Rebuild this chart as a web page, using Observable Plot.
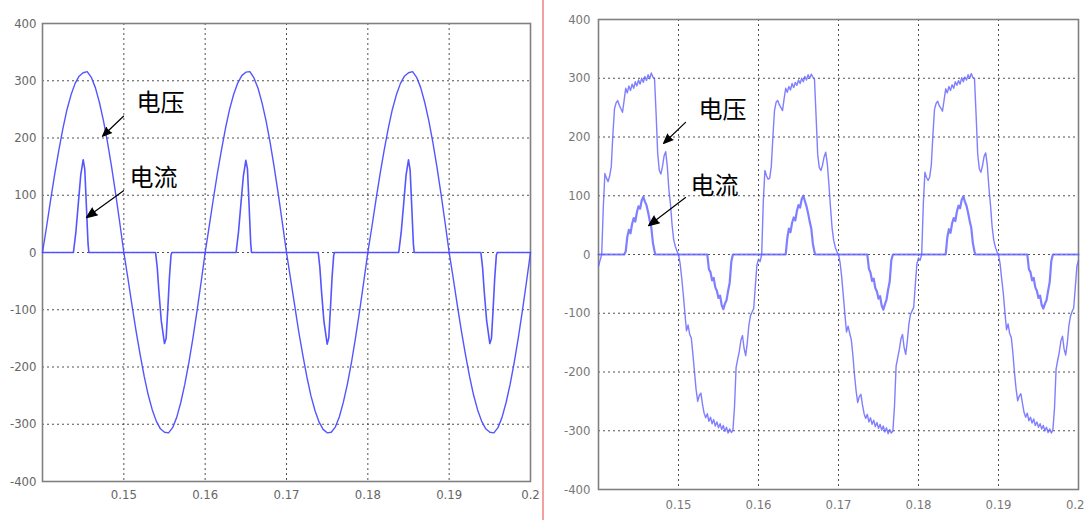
<!DOCTYPE html>
<html><head><meta charset="utf-8">
<script src="https://cdn.jsdelivr.net/npm/d3@7"></script>
<script src="https://cdn.jsdelivr.net/npm/@observablehq/plot@0.6"></script>
<style>
html,body{margin:0;padding:0;background:#fff;}
#wrap{position:relative;width:1085px;height:520px;overflow:hidden;background:#fff;}
#left{position:absolute;left:0;top:0;}
#right{position:absolute;left:545px;top:0;}
#sep{position:absolute;left:542px;top:0;width:2px;height:520px;background:#f2a0a0;}
</style></head><body>
<div id="wrap"><div id="left"></div><div id="sep"></div><div id="right"></div></div>
<script>
// ---- tick values and labels ----
const xTickValues = [0.15, 0.16, 0.17, 0.18, 0.19, 0.2];
const xTickLabels = ["0.15", "0.16", "0.17", "0.18", "0.19", "0.2"];
const yTickValues = [400, 300, 200, 100, 0, -100, -200, -300, -400];
const yTickLabels = ["400", "300", "200", "100", "0", "-100", "-200", "-300", "-400"];

// ---- left panel: voltage [t, v] ----
const leftVoltage = [
[0.1400,0],[0.1405,45],[0.1410,92],[0.1415,137],[0.1420,178],[0.1425,216],[0.1430,249],[0.1435,275],[0.1440,295],[0.1445,308],[0.1450,314],[0.1455,316],[0.1460,306],[0.1465,288],[0.1470,262],[0.1475,230],[0.1480,192],[0.1485,149],[0.1490,102],[0.1495,52],[0.1500,0],
[0.1505,-45],[0.1510,-92],[0.1515,-137],[0.1520,-178],[0.1525,-216],[0.1530,-249],[0.1535,-275],[0.1540,-295],[0.1545,-308],[0.1550,-314],[0.1555,-315],[0.1560,-306],[0.1565,-288],[0.1570,-262],[0.1575,-230],[0.1580,-192],[0.1585,-149],[0.1590,-102],[0.1595,-52],[0.1600,0],
[0.1605,46],[0.1610,93],[0.1615,138],[0.1620,179],[0.1625,217],[0.1630,250],[0.1635,276],[0.1640,296],[0.1645,309],[0.1650,315],[0.1655,316],[0.1660,305],[0.1665,287],[0.1670,261],[0.1675,229],[0.1680,191],[0.1685,148],[0.1690,101],[0.1695,51],[0.1700,0],
[0.1705,-46],[0.1710,-92],[0.1715,-138],[0.1720,-179],[0.1725,-217],[0.1730,-250],[0.1735,-276],[0.1740,-296],[0.1745,-309],[0.1750,-315],[0.1755,-314],[0.1760,-305],[0.1765,-287],[0.1770,-261],[0.1775,-229],[0.1780,-191],[0.1785,-148],[0.1790,-101],[0.1795,-51],[0.1800,0],
[0.1805,45],[0.1810,92],[0.1815,137],[0.1820,178],[0.1825,216],[0.1830,249],[0.1835,275],[0.1840,295],[0.1845,308],[0.1850,314],[0.1855,316],[0.1860,306],[0.1865,288],[0.1870,262],[0.1875,230],[0.1880,192],[0.1885,149],[0.1890,102],[0.1895,52],[0.1900,0],
[0.1905,-45],[0.1910,-92],[0.1915,-137],[0.1920,-178],[0.1925,-216],[0.1930,-249],[0.1935,-275],[0.1940,-295],[0.1945,-308],[0.1950,-314],[0.1955,-315],[0.1960,-306],[0.1965,-288],[0.1970,-262],[0.1975,-230],[0.1980,-192],[0.1985,-149],[0.1990,-102],[0.1995,-52],[0.2000,0]
];

// ---- left panel: current [t, v] ----
const leftCurrent = [
[0.1400,0],
[0.1438,0],[0.1441,35],[0.1444,85],[0.1447,135],[0.1450,162],[0.1452,145],[0.1454,80],[0.1456,15],[0.1457,0],
[0.1539,0],[0.1541,-25],[0.1543,-66],[0.1546,-119],[0.1550,-159],[0.1552,-150],[0.1554,-100],[0.1556,-45],[0.1558,-5],[0.1559,0],
[0.1638,0],[0.1641,36],[0.1644,86],[0.1647,134],[0.1650,161],[0.1652,146],[0.1654,82],[0.1656,16],[0.1657,0],
[0.1739,0],[0.1741,-26],[0.1743,-67],[0.1746,-120],[0.1750,-160],[0.1752,-149],[0.1754,-98],[0.1756,-44],[0.1758,-5],[0.1759,0],
[0.1838,0],[0.1841,35],[0.1844,84],[0.1847,135],[0.1850,162],[0.1852,144],[0.1854,80],[0.1856,15],[0.1857,0],
[0.1939,0],[0.1941,-25],[0.1943,-66],[0.1946,-118],[0.1950,-159],[0.1952,-150],[0.1954,-100],[0.1956,-45],[0.1958,-5],[0.1959,0],
[0.2000,0]
];

// ---- right panel: voltage [t, v] ----
const rightVoltage = [
[0.1400,-20],[0.1402,-10],[0.1404,0],[0.1406,80],[0.1408,138],[0.1410,130],[0.1412,124],[0.1414,134],[0.1416,150],[0.1418,205],[0.1420,248],[0.1422,258],[0.1424,262],[0.1426,254],[0.1428,248],[0.1430,242],[0.1432,262],[0.1434,283],[0.1436,275],[0.1438,287],[0.1440,279],[0.1442,290],[0.1444,283],[0.1446,294],[0.1448,287],[0.1450,297],[0.1452,290],[0.1454,300],[0.1456,293],[0.1458,303],[0.1460,296],[0.1462,306],[0.1464,299],[0.1466,309],[0.1468,302],[0.1470,300],[0.1472,240],[0.1474,172],[0.1476,143],[0.1478,137],[0.1480,150],[0.1482,168],[0.1484,175],[0.1486,150],[0.1488,110],[0.1490,85],[0.1492,50],[0.1494,25],[0.1496,14],[0.1498,6],[0.1500,0],
[0.1502,-15],[0.1504,-40],[0.1506,-68],[0.1508,-100],[0.1510,-130],[0.1512,-120],[0.1514,-136],[0.1516,-142],[0.1518,-170],[0.1520,-200],[0.1522,-230],[0.1524,-250],[0.1526,-240],[0.1528,-236],[0.1530,-255],[0.1532,-270],[0.1534,-278],[0.1536,-271],[0.1538,-284],[0.1540,-277],[0.1542,-288],[0.1544,-281],[0.1546,-292],[0.1548,-285],[0.1550,-295],[0.1552,-288],[0.1554,-298],[0.1556,-291],[0.1558,-301],[0.1560,-294],[0.1562,-304],[0.1564,-297],[0.1566,-303],[0.1568,-299],[0.1570,-260],[0.1572,-192],[0.1574,-178],[0.1576,-165],[0.1578,-146],[0.1580,-138],[0.1582,-160],[0.1584,-172],[0.1586,-150],[0.1588,-120],[0.1590,-104],[0.1592,-98],[0.1594,-92],[0.1596,-55],[0.1598,-18],[0.1600,-8],
[0.1602,-12],[0.1604,0],[0.1606,90],[0.1608,143],[0.1610,134],[0.1612,128],[0.1614,130],[0.1616,150],[0.1618,200],[0.1620,245],[0.1622,259],[0.1624,262],[0.1626,255],[0.1628,250],[0.1630,245],[0.1632,265],[0.1634,283],[0.1636,276],[0.1638,286],[0.1640,280],[0.1642,291],[0.1644,284],[0.1646,293],[0.1648,288],[0.1650,297],[0.1652,291],[0.1654,300],[0.1656,294],[0.1658,303],[0.1660,297],[0.1662,306],[0.1664,300],[0.1666,307],[0.1668,302],[0.1670,298],[0.1672,235],[0.1674,170],[0.1676,148],[0.1678,143],[0.1680,152],[0.1682,166],[0.1684,174],[0.1686,155],[0.1688,120],[0.1690,80],[0.1692,45],[0.1694,24],[0.1696,12],[0.1698,5],[0.1700,0],
[0.1702,-14],[0.1704,-38],[0.1706,-70],[0.1708,-102],[0.1710,-132],[0.1712,-122],[0.1714,-134],[0.1716,-145],[0.1718,-172],[0.1720,-205],[0.1722,-232],[0.1724,-252],[0.1726,-242],[0.1728,-238],[0.1730,-256],[0.1732,-271],[0.1734,-279],[0.1736,-272],[0.1738,-285],[0.1740,-278],[0.1742,-289],[0.1744,-282],[0.1746,-293],[0.1748,-286],[0.1750,-296],[0.1752,-289],[0.1754,-299],[0.1756,-292],[0.1758,-302],[0.1760,-295],[0.1762,-305],[0.1764,-298],[0.1766,-304],[0.1768,-300],[0.1770,-258],[0.1772,-190],[0.1774,-176],[0.1776,-162],[0.1778,-144],[0.1780,-136],[0.1782,-158],[0.1784,-170],[0.1786,-148],[0.1788,-118],[0.1790,-102],[0.1792,-96],[0.1794,-90],[0.1796,-52],[0.1798,-16],[0.1800,-6],
[0.1802,-10],[0.1804,0],[0.1806,85],[0.1808,140],[0.1810,131],[0.1812,126],[0.1814,132],[0.1816,152],[0.1818,203],[0.1820,247],[0.1822,257],[0.1824,261],[0.1826,253],[0.1828,249],[0.1830,244],[0.1832,263],[0.1834,282],[0.1836,275],[0.1838,286],[0.1840,279],[0.1842,289],[0.1844,283],[0.1846,294],[0.1848,288],[0.1850,296],[0.1852,290],[0.1854,301],[0.1856,294],[0.1858,302],[0.1860,297],[0.1862,306],[0.1864,300],[0.1866,308],[0.1868,301],[0.1870,299],[0.1872,238],[0.1874,171],[0.1876,146],[0.1878,140],[0.1880,151],[0.1882,167],[0.1884,173],[0.1886,152],[0.1888,114],[0.1890,84],[0.1892,48],[0.1894,25],[0.1896,13],[0.1898,5],[0.1900,0],
[0.1902,-16],[0.1904,-42],[0.1906,-66],[0.1908,-98],[0.1910,-128],[0.1912,-118],[0.1914,-135],[0.1916,-141],[0.1918,-168],[0.1920,-202],[0.1922,-229],[0.1924,-249],[0.1926,-241],[0.1928,-237],[0.1930,-254],[0.1932,-269],[0.1934,-277],[0.1936,-270],[0.1938,-283],[0.1940,-277],[0.1942,-287],[0.1944,-280],[0.1946,-291],[0.1948,-285],[0.1950,-294],[0.1952,-288],[0.1954,-297],[0.1956,-291],[0.1958,-300],[0.1960,-294],[0.1962,-303],[0.1964,-297],[0.1966,-304],[0.1968,-298],[0.1970,-262],[0.1972,-195],[0.1974,-180],[0.1976,-166],[0.1978,-147],[0.1980,-139],[0.1982,-161],[0.1984,-171],[0.1986,-151],[0.1988,-121],[0.1990,-105],[0.1992,-97],[0.1994,-91],[0.1996,-56],[0.1998,-20],[0.2000,-10]
];

// ---- right panel: current [t, v] ----
const rightCurrent = [
[0.1400,0],
[0.1432,0],[0.1434,5],[0.1436,30],[0.1438,42],[0.1440,36],[0.1442,52],[0.1444,62],[0.1446,56],[0.1448,72],[0.1450,82],[0.1452,78],[0.1454,92],[0.1456,98],[0.1458,90],[0.1460,84],[0.1462,72],[0.1464,58],[0.1466,46],[0.1468,20],[0.1470,6],[0.1471,0],
[0.1536,0],[0.1538,-25],[0.1540,-30],[0.1542,-44],[0.1544,-40],[0.1546,-56],[0.1548,-62],[0.1550,-74],[0.1552,-70],[0.1554,-86],[0.1556,-93],[0.1558,-84],[0.1560,-78],[0.1562,-62],[0.1564,-48],[0.1566,-12],[0.1568,0],
[0.1634,0],[0.1636,28],[0.1638,44],[0.1640,38],[0.1642,54],[0.1644,63],[0.1646,58],[0.1648,74],[0.1650,84],[0.1652,80],[0.1654,94],[0.1656,100],[0.1658,91],[0.1660,82],[0.1662,70],[0.1664,56],[0.1666,44],[0.1668,18],[0.1670,4],[0.1671,0],
[0.1736,0],[0.1738,-24],[0.1740,-31],[0.1742,-45],[0.1744,-41],[0.1746,-57],[0.1748,-63],[0.1750,-75],[0.1752,-71],[0.1754,-87],[0.1756,-94],[0.1758,-85],[0.1760,-77],[0.1762,-60],[0.1764,-46],[0.1766,-10],[0.1768,0],
[0.1834,0],[0.1836,29],[0.1838,43],[0.1840,37],[0.1842,53],[0.1844,62],[0.1846,57],[0.1848,73],[0.1850,83],[0.1852,79],[0.1854,93],[0.1856,99],[0.1858,90],[0.1860,83],[0.1862,71],[0.1864,57],[0.1866,45],[0.1868,19],[0.1870,5],[0.1871,0],
[0.1936,0],[0.1938,-25],[0.1940,-30],[0.1942,-44],[0.1944,-40],[0.1946,-56],[0.1948,-62],[0.1950,-74],[0.1952,-70],[0.1954,-86],[0.1956,-92],[0.1958,-84],[0.1960,-78],[0.1962,-62],[0.1964,-47],[0.1966,-11],[0.1968,0],
[0.2000,0]
];

// ---- annotations (data coordinates) ----
const leftLabels = [{t:0.15451, v:260, text:"电压"}, {t:0.15365, v:129, text:"电流"}];
const leftArrows = [{x1:0.14996, y1:238, x2:0.14738, y2:203}, {x1:0.14996, y1:108, x2:0.14541, y2:61}];
const rightLabels = [{t:0.1555, v:245, text:"电压"}, {t:0.1545, v:116, text:"电流"}];
const rightArrows = [{x1:0.15088, y1:225, x2:0.14813, y2:189}, {x1:0.15088, y1:97, x2:0.14625, y2:49}];

function panel(cfg) {
  const gridStyle = {stroke: "#333", strokeOpacity: 0.85, strokeDasharray: "2,3", strokeWidth: 1};
  const fmtX = d => xTickLabels[xTickValues.indexOf(d)];
  const lastX = xTickValues[xTickValues.length - 1];
  const xAxes = cfg.endAnchorLast
    ? [
        Plot.axisX(xTickValues.filter(d => d !== lastX), {tickFormat: fmtX, tickSize: 0, tickPadding: cfg.xPad, label: null}),
        Plot.axisX([lastX], {tickFormat: fmtX, tickSize: 0, tickPadding: cfg.xPad, label: null, textAnchor: "end", dx: 6})
      ]
    : [Plot.axisX(xTickValues, {tickFormat: fmtX, tickSize: 0, tickPadding: cfg.xPad, label: null})];
  return Plot.plot({
    width: cfg.width, height: cfg.height,
    marginLeft: cfg.ml, marginRight: cfg.mr, marginTop: cfg.mt, marginBottom: cfg.mb,
    x: {domain: [0.14, 0.2]},
    y: {domain: [-400, 400]},
    style: {fontFamily: "'DejaVu Sans Condensed', 'DejaVu Sans', sans-serif", fontSize: "13px", background: "#fff", color: cfg.labelColor},
    marks: [
      Plot.gridX(xTickValues, gridStyle),
      Plot.gridY(yTickValues, gridStyle),
      ...xAxes,
      Plot.axisY(yTickValues, {tickFormat: d => yTickLabels[yTickValues.indexOf(d)], tickSize: 0, tickPadding: cfg.yPad, label: null}),
      Plot.frame({stroke: "#808080", strokeWidth: 1.6}),
      Plot.line(cfg.current, {x: d => d[0], y: d => d[1], stroke: cfg.lineColor, strokeWidth: cfg.curWidth, strokeOpacity: cfg.opacity}),
      Plot.line(cfg.voltage, {x: d => d[0], y: d => d[1], stroke: cfg.lineColor, strokeWidth: cfg.voltWidth, strokeOpacity: cfg.opacity}),
      Plot.arrow(cfg.arrows, {x1: "x1", y1: "y1", x2: "x2", y2: "y2", stroke: "black", fill: "black", strokeWidth: 1.2, headLength: 14, headAngle: 45}),
      Plot.text(cfg.labels, {x: "t", y: "v", text: "text", fontSize: 24, fontFamily: "'Noto Sans CJK SC', sans-serif", fill: "black"})
    ]
  });
}

document.getElementById("left").appendChild(panel({
  width: 545, height: 520, ml: 42, mr: 15, mt: 23, mb: 39,
  voltage: leftVoltage, current: leftCurrent, labels: leftLabels, arrows: leftArrows,
  lineColor: "#4c4cff", voltWidth: 1.4, curWidth: 1.6, opacity: 0.95, labelColor: "#666", xPad: 8, yPad: 6,
  endAnchorLast: false
}));
document.getElementById("right").appendChild(panel({
  width: 540, height: 520, ml: 53, mr: 7, mt: 19, mb: 31,
  voltage: rightVoltage, current: rightCurrent, labels: rightLabels, arrows: rightArrows,
  lineColor: "#5f5fff", voltWidth: 1.4, curWidth: 2.2, opacity: 0.8, labelColor: "#777", xPad: 10, yPad: 8,
  endAnchorLast: true
}));
</script>
</body></html>
